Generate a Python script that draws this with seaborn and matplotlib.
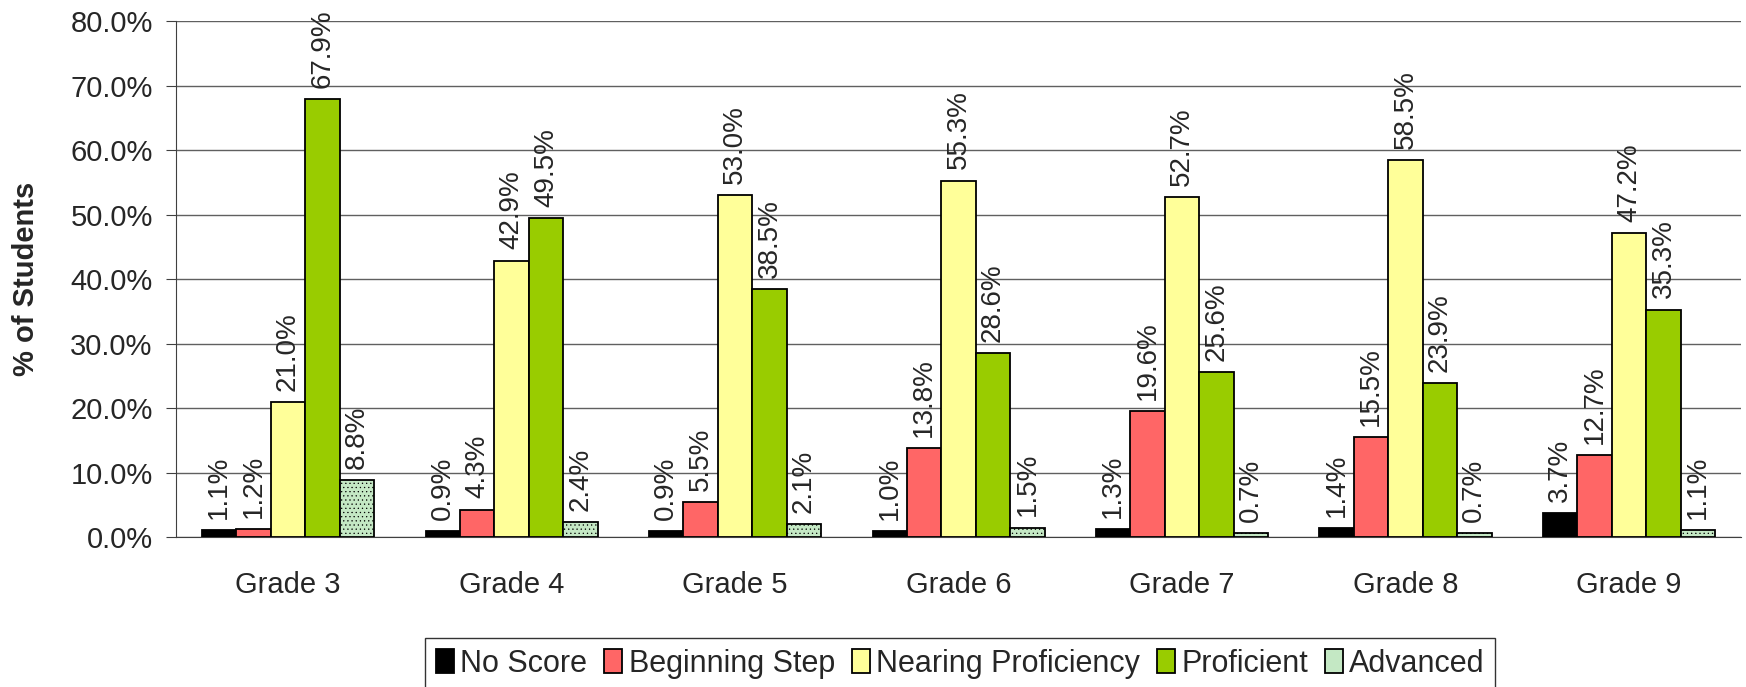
import pandas as pd
import numpy as np
import matplotlib
matplotlib.use('Agg')
import matplotlib.pyplot as plt
import seaborn as sns
from matplotlib.ticker import PercentFormatter, FixedLocator

grades = ['Grade 3', 'Grade 4', 'Grade 5', 'Grade 6', 'Grade 7', 'Grade 8', 'Grade 9']
levels = ['No Score', 'Beginning Step', 'Nearing Proficiency', 'Proficient', 'Advanced']

no_score = [1.1, 0.9, 0.9, 1.0, 1.3, 1.4, 3.7]
beginning = [1.2, 4.3, 5.5, 13.8, 19.6, 15.5, 12.7]
nearing = [21.0, 42.9, 53.0, 55.3, 52.7, 58.5, 47.2]
proficient = [67.9, 49.5, 38.5, 28.6, 25.6, 23.9, 35.3]
advanced = [8.8, 2.4, 2.1, 1.5, 0.7, 0.7, 1.1]

colors = ['#000000', '#FF6666', '#FFFF99', '#99CC00', '#C4E8C4']

rows = []
for lvl, vals in zip(levels, [no_score, beginning, nearing, proficient, advanced]):
    for g, v in zip(grades, vals):
        rows.append({'Grade': g, 'Level': lvl, 'Pct': v})
df = pd.DataFrame(rows)

sns.set_style('white')
plt.rcParams['font.family'] = ['Liberation Sans', 'DejaVu Sans']
plt.rcParams['hatch.linewidth'] = 0.4

fs = 21

fig = plt.figure(figsize=(17.46, 6.87), dpi=100)
ax = fig.add_axes([0.101, 0.218, 0.896, 0.751])

sns.barplot(data=df, x='Grade', y='Pct', hue='Level', order=grades, hue_order=levels,
            palette=colors, width=0.77, edgecolor='black', linewidth=1.3,
            saturation=1, ax=ax, legend=True, zorder=3)

for cont, lvl in zip(ax.containers, levels):
    if lvl == 'Advanced':
        for p in cont:
            p.set_hatch('....')
    ax.bar_label(cont, labels=[f'{v:.1f}%' for v in cont.datavalues],
                 rotation=90, padding=8, fontsize=20)

ax.set_ylim(0, 80)
ax.set_yticks(np.arange(0, 81, 10))
ax.yaxis.set_major_formatter(PercentFormatter(decimals=1))
ax.grid(axis='y', color='#606060', linewidth=1, zorder=0)
ax.set_axisbelow(True)
ax.set_xlim(-0.5, len(grades) - 0.5)
ax.set_xlabel('')
ax.set_ylabel('% of Students', fontsize=fs, fontweight='bold', labelpad=22)

for s in ['top', 'right']:
    ax.spines[s].set_visible(False)
ax.spines['left'].set_color('#404040')
ax.spines['bottom'].set_color('#404040')

ax.tick_params(axis='x', which='major', length=0, labelsize=fs, pad=24)
ax.xaxis.set_minor_locator(FixedLocator(np.arange(-0.5, len(grades), 1)))
ax.tick_params(axis='x', which='minor', length=7, color='#404040')
ax.tick_params(axis='y', length=7, color='#404040', labelsize=fs, direction='out',
               left=True, pad=10)

ax.legend(loc='center', bbox_to_anchor=(0.55, 0.034), bbox_transform=fig.transFigure,
          ncol=5, frameon=True, fancybox=False, edgecolor='black', fontsize=22,
          handlelength=0.6, handleheight=0.8, handletextpad=0.2, columnspacing=0.55,
          borderpad=0.35)

plt.savefig('out.png', dpi=100)
plt.close()
